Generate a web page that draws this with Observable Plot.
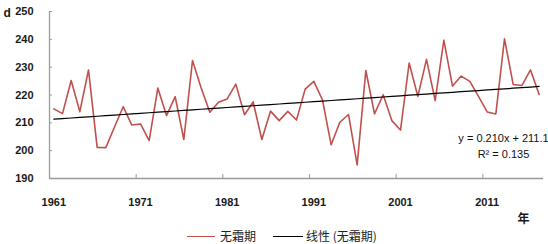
<!DOCTYPE html>
<html>
<head>
<meta charset="utf-8">
<script src="https://cdn.jsdelivr.net/npm/d3@7"></script>
<script src="https://cdn.jsdelivr.net/npm/@observablehq/plot@0.6"></script>
<style>
  html, body { margin: 0; padding: 0; background: #fff; overflow: hidden; }
  #chart { height: 226px; }
  #chart svg { display: block; }
  #legend { display: flex; align-items: center; height: 16px; margin-top: 2px; padding-left: 187px; white-space: nowrap;
            font-family: "Noto Sans CJK SC", sans-serif; font-size: 12px; line-height: 1; color: #222; }
  #legend .sw { display: block; height: 0; flex: none; }
  #legend .lab { display: block; line-height: 1; }
</style>
</head>
<body>
<div id="chart"></div>
<div id="legend"></div>
<script>
// ---- data ----
const years = [1961,1962,1963,1964,1965,1966,1967,1968,1969,1970,
               1971,1972,1973,1974,1975,1976,1977,1978,1979,1980,
               1981,1982,1983,1984,1985,1986,1987,1988,1989,1990,
               1991,1992,1993,1994,1995,1996,1997,1998,1999,2000,
               2001,2002,2003,2004,2005,2006,2007,2008,2009,2010,
               2011,2012,2013,2014,2015,2016,2017];
const frostFree = [215.0,213.3,225.2,214.0,229.0,201.2,201.1,208.5,215.8,209.2,
                   209.6,203.6,222.5,212.6,219.4,204.0,232.4,222.5,213.8,217.4,
                   218.6,223.9,212.9,217.5,204.0,214.2,210.8,214.1,211.0,222.1,
                   224.9,218.2,202.1,210.2,213.0,194.9,228.8,213.2,220.1,210.8,
                   207.4,231.5,219.5,232.8,218.0,239.7,223.2,226.8,224.9,219.5,
                   213.9,213.2,240.2,223.8,223.4,229.0,220.2];
const labelYears = [1961,1971,1981,1991,2001,2011];
const yTicks = [190,200,210,220,230,240,250];
const trendSlope = 0.210;
const trendIntercept = 211.1;
const eqText = "y = 0.210x + 211.1";
const r2Text = "R² = 0.135";
const seriesName = "无霜期";
const trendName = "线性 (无霜期)";
const yUnit = "d";
const xUnit = "年";

// ---- build ----
const data = years.map((year, i) => ({year, value: frostFree[i], trend: trendIntercept + trendSlope * (i + 1)}));
const xDomain = [years[0] - 0.5, years[years.length - 1] + 0.5];
const yDomain = [yTicks[0], yTicks[yTicks.length - 1]];
const tickBounds = labelYears.slice(1).map(y => y - 0.5);
const axisGrey = "#9a9a9a";
const red = "#C0504D";

const chart = Plot.plot({
  width: 548, height: 226,
  marginLeft: 49, marginRight: 5, marginTop: 11, marginBottom: 48,
  style: {fontFamily: "'Liberation Sans', Arial, sans-serif", fontSize: "11px", color: "#1a1a1a", background: "#fff"},
  x: {domain: xDomain, axis: null, label: null},
  y: {domain: yDomain, axis: null, label: null},
  marks: [
    Plot.ruleX([xDomain[0]], {stroke: axisGrey, strokeWidth: 1.3}),
    Plot.ruleY([yDomain[0]], {stroke: axisGrey, strokeWidth: 1.3}),
    Plot.axisY(yTicks, {tickSize: -3, fill: null, stroke: axisGrey, label: null}),
    Plot.axisY(yTicks, {tickSize: 0, tickPadding: 16, fontWeight: "bold", tickFormat: d => String(d), label: null}),
    Plot.axisX(tickBounds, {tickSize: -4, fill: null, stroke: axisGrey, label: null}),
    Plot.axisX(labelYears, {tickSize: 0, tickPadding: 20, fontWeight: "bold", tickFormat: d => String(d), label: null}),
    Plot.line(data, {x: d => d.year, y: d => d.value, stroke: red, strokeWidth: 1.6}),
    Plot.line(data, {x: d => d.year, y: d => d.trend, stroke: "#000", strokeWidth: 1.2}),
    Plot.text([eqText], {text: d => d, frameAnchor: "right", dx: -40, dy: 43.5, textAnchor: "middle", fill: "#111"}),
    Plot.text([r2Text], {text: d => d, frameAnchor: "right", dx: -40, dy: 59.5, textAnchor: "middle", fill: "#111"}),
    Plot.text([yUnit], {text: d => d, frameAnchor: "top-left", dx: -46, dy: -3.5, textAnchor: "start", fontWeight: "bold", fontSize: 12}),
    Plot.text([xUnit], {text: d => d, frameAnchor: "bottom-right", dx: -14, dy: 44.7, fontWeight: "bold", fontSize: 12, fontFamily: "'Noto Sans CJK SC', sans-serif"})
  ]
});
document.getElementById("chart").appendChild(chart);

// ---- legend ----
const legend = document.getElementById("legend");
const items = [
  {name: seriesName, color: red, w: 28, gapAfter: 5, width: 1.6},
  {name: trendName, color: "#000", w: 30, gapAfter: 3, width: 1.2}
];
items.forEach((it, i) => {
  const sw = document.createElement("span");
  sw.className = "sw";
  sw.style.width = it.w + "px";
  sw.style.borderTop = it.width + "px solid " + it.color;
  sw.style.marginRight = it.gapAfter + "px";
  if (i > 0) sw.style.marginLeft = "17px";
  const lab = document.createElement("span");
  lab.className = "lab";
  lab.textContent = it.name;
  legend.appendChild(sw);
  legend.appendChild(lab);
});
</script>
</body>
</html>
